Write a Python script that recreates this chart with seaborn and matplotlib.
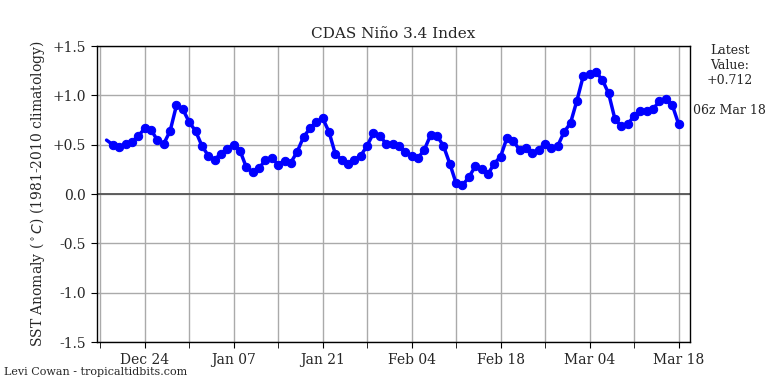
import pandas as pd
import matplotlib
matplotlib.use("Agg")
import matplotlib.pyplot as plt
import matplotlib.dates as mdates
import seaborn as sns

# daily Nino 3.4 anomaly, Dec 18 -> Mar 18
start_date = "2018-12-18"
dec_vals = [0.547, 0.50, 0.48, 0.51, 0.53, 0.59, 0.665, 0.65, 0.547, 0.51, 0.64, 0.90, 0.86, 0.73]
jan_vals = [0.64, 0.49, 0.39, 0.35, 0.41, 0.46, 0.50, 0.44, 0.27, 0.22, 0.26, 0.35, 0.365, 0.30, 0.34, 0.32,
            0.43, 0.58, 0.665, 0.73, 0.77, 0.63, 0.405, 0.35, 0.31, 0.35, 0.39, 0.49, 0.62, 0.59, 0.51]
feb_vals = [0.51, 0.49, 0.43, 0.385, 0.365, 0.45, 0.60, 0.59, 0.49, 0.31, 0.11, 0.09, 0.17, 0.28, 0.25,
            0.20, 0.31, 0.38, 0.57, 0.54, 0.445, 0.47, 0.42, 0.45, 0.51, 0.47, 0.49, 0.63]
mar_vals = [0.72, 0.945, 1.195, 1.215, 1.235, 1.16, 1.02, 0.757, 0.69, 0.71, 0.79, 0.845, 0.84, 0.865,
            0.94, 0.96, 0.905, 0.712]

yticks = [-1.5, -1.0, -0.5, 0.0, 0.5, 1.0, 1.5]
ytick_labels = ["-1.5", "-1.0", "-0.5", "0.0", "+0.5", "+1.0", "+1.5"]

vals = dec_vals + jan_vals + feb_vals + mar_vals
df = pd.DataFrame({"date": pd.date_range(start_date, periods=len(vals), freq="D"), "anom": vals})

sns.set_style("ticks")
plt.rcParams["font.family"] = ["DejaVu Serif"]

fig = plt.figure(figsize=(7.68, 3.84), dpi=100)
ax = fig.add_axes([0.126, 0.109, 0.772, 0.771])

ax.axhline(0, color="#555555", lw=1.3, zorder=1)
sns.lineplot(data=df, x="date", y="anom", ax=ax, color="blue", lw=2.5, marker="o", markersize=6,
             markeredgecolor="blue", markevery=list(range(1, len(df))), zorder=3)

ax.set_ylim(-1.5, 1.5)
ax.set_yticks(yticks)
ax.set_yticklabels(ytick_labels, fontsize=10)
ax.set_xlim(pd.Timestamp("2018-12-16 11:00"), pd.Timestamp("2019-03-19 18:00"))
ax.set_xticks(pd.date_range("2018-12-24", periods=7, freq="14D"))
ax.set_xticks(pd.date_range("2018-12-17", periods=7, freq="14D"), minor=True)
ax.xaxis.set_major_formatter(mdates.DateFormatter("%b %d"))
ax.tick_params(axis="x", which="both", labelsize=10, length=4, color="black")
ax.tick_params(axis="y", length=4, color="black")
ax.grid(True, which="both", axis="x", color="#aaaaaa", lw=1)
ax.grid(True, which="major", axis="y", color="#aaaaaa", lw=1)
for s in ax.spines.values():
    s.set_color("black")
    s.set_linewidth(1)

ax.set_xlabel("")
ax.set_ylabel(r"SST Anomaly ($^\circ C$) (1981-2010 climatology)", fontsize=10)
ax.set_title("CDAS Niño 3.4 Index", fontsize=11)

fig.text(0.95, 0.885, "Latest\nValue:\n+0.712", ha="center", va="top", fontsize=9)
fig.text(0.95, 0.711, "06z Mar 18", ha="center", va="center", fontsize=9)
fig.text(0.005, 0.018, "Levi Cowan - tropicaltidbits.com", ha="left", va="bottom", fontsize=8)

fig.savefig("out.png", dpi=100)
